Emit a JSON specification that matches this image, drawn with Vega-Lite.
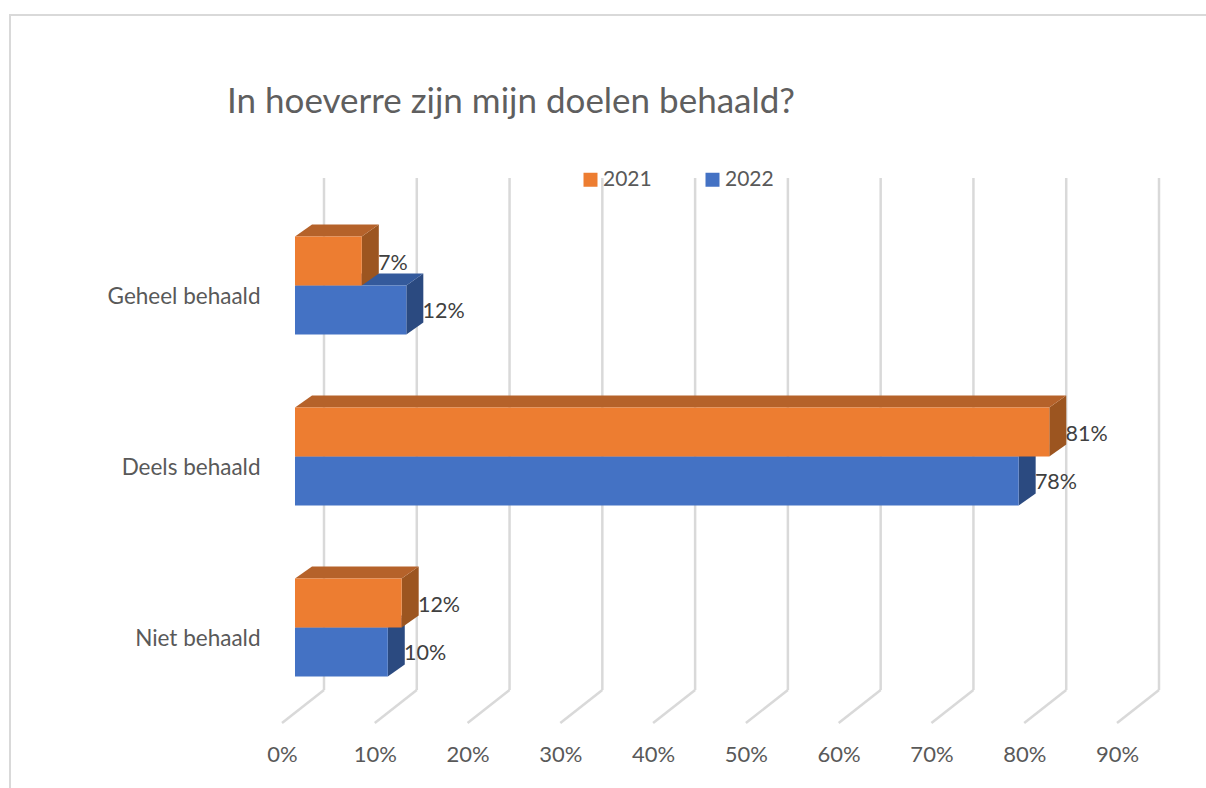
{
"$schema":"https://vega.github.io/schema/vega-lite/v6.json",
"width":1210,"height":790,
"padding":{"left":10,"top":15,"right":0,"bottom":0},
"autosize":{"type":"none"},
"background":"white",
"view":{"stroke":"#D9D9D9","strokeWidth":2,"fill":"white"},
"title":{"text":"In hoeverre zijn mijn doelen behaald?","frame":"group","anchor":"start","dx":217,"dy":109,"font":"Lato","fontSize":35,"fontWeight":"normal","color":"#5F5F5F"},
"config":{"font":"Lato"},
"datasets":{
"balken":[
{"categorie":"Geheel behaald","jaar":"2021","waarde":7.2},
{"categorie":"Geheel behaald","jaar":"2022","waarde":12},
{"categorie":"Deels behaald","jaar":"2021","waarde":81.3},
{"categorie":"Deels behaald","jaar":"2022","waarde":78},
{"categorie":"Niet behaald","jaar":"2021","waarde":11.5},
{"categorie":"Niet behaald","jaar":"2022","waarde":10}
],
"schaal":[{"tick":0},{"tick":10},{"tick":20},{"tick":30},{"tick":40},{"tick":50},{"tick":60},{"tick":70},{"tick":80},{"tick":90}]
},
"layer":[
{"data":{"name":"schaal"},
 "mark":{"type":"rule","color":"#D9D9D9","strokeWidth":2.5,"xOffset":42},
 "encoding":{
  "x":{"field":"tick","type":"quantitative","scale":{"domain":[0,90],"range":[272,1107],"nice":false,"zero":false},
   "axis":{"title":null,"orient":"bottom","offset":-61,"values":[0,10,20,30,40,50,60,70,80,90],"labelExpr":"datum.value+'%'","grid":false,"ticks":false,"domain":false,"labelFont":"Lato","labelFontSize":22,"labelColor":"#595959","labelPadding":0,"labelFlush":false,"labelOverlap":false}},
  "y":{"datum":0.1345,"type":"quantitative","scale":{"domain":[0,3],"range":[698,185],"nice":false,"zero":false},
   "axis":{"title":null,"orient":"left","offset":-250,"values":[0.5,1.5,2.5],"labelExpr":"datum.value==2.5?'Geheel behaald':datum.value==1.5?'Deels behaald':'Niet behaald'","grid":false,"ticks":false,"domain":false,"labelFont":"Lato","labelFontSize":22.5,"labelColor":"#595959","labelPadding":0,"labelOffset":11}},
  "y2":{"datum":3.1287}
 }},
{"data":{"name":"schaal"},
 "mark":{"type":"rule","color":"#D9D9D9","strokeWidth":2.5,"x2Offset":42},
 "encoding":{
  "x":{"field":"tick","type":"quantitative"},
  "x2":{"field":"tick"},
  "y":{"datum":-0.0585,"type":"quantitative"},
  "y2":{"datum":0.1345}
 }},
{"data":{"name":"balken"},
 "transform":[
  {"filter":"datum.jaar=='2022'"},
  {"calculate":"[0,1]","as":"d"},{"flatten":["d"]},
  {"calculate":"datum.waarde+1.401+datum.d*1.832","as":"xs"},
  {"calculate":"indexof(['Niet behaald','Deels behaald','Geheel behaald'],datum.categorie)+0.5-0.2865+datum.d*0.0702","as":"yb"},
  {"calculate":"datum.yb+0.2865","as":"yt"}
 ],
 "mark":{"type":"area","orient":"vertical","color":"#2B4A80"},
 "encoding":{"x":{"field":"xs","type":"quantitative"},"y":{"field":"yb","type":"quantitative","stack":null},"y2":{"field":"yt"},"detail":{"field":"categorie"}}},
{"data":{"name":"balken"},
 "transform":[
  {"filter":"datum.jaar=='2022'"},
  {"calculate":"[0,1]","as":"d"},{"flatten":["d"]},
  {"calculate":"1.401+datum.d*1.832","as":"xa"},
  {"calculate":"datum.waarde+datum.xa","as":"xb"},
  {"calculate":"indexof(['Niet behaald','Deels behaald','Geheel behaald'],datum.categorie)+0.5+datum.d*0.0702","as":"yt"}
 ],
 "mark":{"type":"area","orient":"horizontal","color":"#345A9C"},
 "encoding":{"y":{"field":"yt","type":"quantitative"},"x":{"field":"xa","type":"quantitative","stack":null},"x2":{"field":"xb"},"detail":{"field":"categorie"}}},
{"data":{"name":"balken"},
 "transform":[
  {"filter":"datum.jaar=='2022'"},
  {"calculate":"datum.waarde+1.401","as":"xe"},
  {"calculate":"1.401","as":"xa"},
  {"calculate":"indexof(['Niet behaald','Deels behaald','Geheel behaald'],datum.categorie)+0.5-0.2865","as":"yb"},
  {"calculate":"datum.yb+0.2865","as":"yt"}
 ],
 "mark":{"type":"rect"},
 "encoding":{"x":{"field":"xa","type":"quantitative"},"x2":{"field":"xe"},"y":{"field":"yb","type":"quantitative"},"y2":{"field":"yt"},
  "color":{"field":"jaar","type":"nominal","scale":{"domain":["2021","2022"],"range":["#ED7D31","#4472C4"]},
   "legend":{"title":null,"orient":"none","direction":"horizontal","legendX":570,"legendY":154,"symbolType":"square","symbolSize":196,"symbolStrokeWidth":0,"labelFont":"Lato","labelFontSize":21,"labelColor":"#595959","columnPadding":50,"labelOffset":2}}}},
{"data":{"name":"balken"},
 "transform":[
  {"filter":"datum.jaar=='2021'"},
  {"calculate":"[0,1]","as":"d"},{"flatten":["d"]},
  {"calculate":"datum.waarde+1.401+datum.d*1.832","as":"xs"},
  {"calculate":"indexof(['Niet behaald','Deels behaald','Geheel behaald'],datum.categorie)+0.5+datum.d*0.0702","as":"yb"},
  {"calculate":"datum.yb+0.2865","as":"yt"}
 ],
 "mark":{"type":"area","orient":"vertical","color":"#9C5520"},
 "encoding":{"x":{"field":"xs","type":"quantitative"},"y":{"field":"yb","type":"quantitative","stack":null},"y2":{"field":"yt"},"detail":{"field":"categorie"}}},
{"data":{"name":"balken"},
 "transform":[
  {"filter":"datum.jaar=='2021'"},
  {"calculate":"[0,1]","as":"d"},{"flatten":["d"]},
  {"calculate":"1.401+datum.d*1.832","as":"xa"},
  {"calculate":"datum.waarde+datum.xa","as":"xb"},
  {"calculate":"indexof(['Niet behaald','Deels behaald','Geheel behaald'],datum.categorie)+0.5+0.2865+datum.d*0.0702","as":"yt"}
 ],
 "mark":{"type":"area","orient":"horizontal","color":"#B5622A"},
 "encoding":{"y":{"field":"yt","type":"quantitative"},"x":{"field":"xa","type":"quantitative","stack":null},"x2":{"field":"xb"},"detail":{"field":"categorie"}}},
{"data":{"name":"balken"},
 "transform":[
  {"filter":"datum.jaar=='2021'"},
  {"calculate":"datum.waarde+1.401","as":"xe"},
  {"calculate":"1.401","as":"xa"},
  {"calculate":"indexof(['Niet behaald','Deels behaald','Geheel behaald'],datum.categorie)+0.5","as":"yb"},
  {"calculate":"datum.yb+0.2865","as":"yt"}
 ],
 "mark":{"type":"rect"},
 "encoding":{"x":{"field":"xa","type":"quantitative"},"x2":{"field":"xe"},"y":{"field":"yb","type":"quantitative"},"y2":{"field":"yt"},
  "color":{"field":"jaar","type":"nominal"}}},
{"data":{"name":"balken"},
 "transform":[
  {"calculate":"datum.waarde+1.401+1.75","as":"xt"},
  {"calculate":"indexof(['Niet behaald','Deels behaald','Geheel behaald'],datum.categorie)+0.5+(datum.jaar=='2021'?0.127:-0.155)","as":"yt"},
  {"calculate":"format(datum.waarde,'.0f')+'%'","as":"label"}
 ],
 "mark":{"type":"text","align":"left","baseline":"middle","font":"Lato","fontSize":21.5,"color":"#404040"},
 "encoding":{"x":{"field":"xt","type":"quantitative"},"y":{"field":"yt","type":"quantitative"},"text":{"field":"label"}}}
]
}
